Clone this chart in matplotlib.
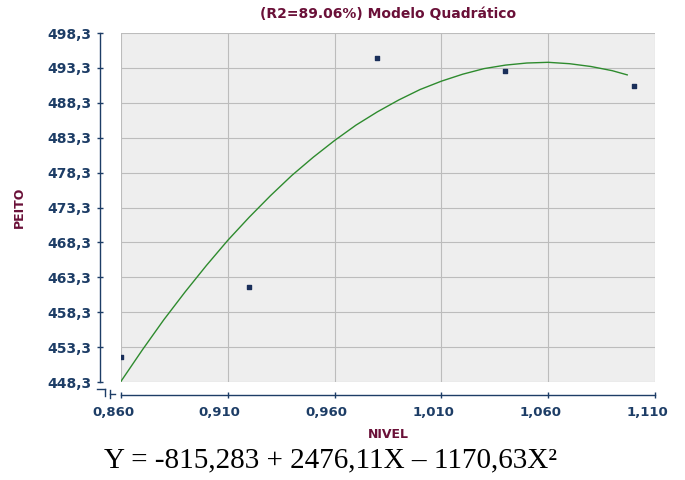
import matplotlib.pyplot as plt
from matplotlib.ticker import FixedLocator, FuncFormatter
from matplotlib.transforms import ScaledTranslation

# observed points
nivel = [0.860, 0.920, 0.980, 1.040, 1.100]
peito = [451.9, 461.9, 494.7, 492.9, 490.7]

# fitted quadratic curve
curve_x = [0.860, 0.870, 0.880, 0.890, 0.900, 0.910, 0.920, 0.930,
           0.940, 0.950, 0.960, 0.970, 0.980, 0.990, 1.000, 1.010,
           1.020, 1.030, 1.040, 1.050, 1.060, 1.070, 1.080, 1.090,
           1.097]
curve_y = [448.4, 452.9, 457.2, 461.2, 465.0, 468.6, 471.9, 475.0,
           477.9, 480.5, 482.9, 485.1, 487.0, 488.7, 490.2, 491.4,
           492.4, 493.2, 493.7, 494.0, 494.1, 493.9, 493.5, 492.9,
           492.3]

x_ticks = [0.860, 0.910, 0.960, 1.010, 1.060, 1.110]
y_ticks = [448.3, 453.3, 458.3, 463.3, 468.3, 473.3, 478.3, 483.3,
           488.3, 493.3, 498.3]

title = "(R2=89.06%) Modelo Quadrático"
equation = "Y = -815,283 + 2476,11X \u2013 1170,63X\u00b2"

NAVY = "#1d3d66"
MAROON = "#6a1038"


def comma(v, _pos, digits):
    return f"{v:.{digits}f}".replace(".", ",")


fig = plt.figure(figsize=(6.85, 4.8), dpi=100)
ax = fig.add_axes([121 / 685, 98 / 480, 534 / 685, 349 / 480])
ax.set_facecolor("#eeeeee")

ax.plot(curve_x, curve_y, color="#2e8b2e", linewidth=1.0, zorder=3)
ax.scatter(nivel, peito, marker="s", s=6, color="#1a2f5a", zorder=4)

ax.set_xlim(x_ticks[0], x_ticks[-1])
ax.set_ylim(y_ticks[0], y_ticks[-1])
ax.xaxis.set_major_locator(FixedLocator(x_ticks))
ax.yaxis.set_major_locator(FixedLocator(y_ticks))
ax.xaxis.set_major_formatter(FuncFormatter(lambda v, p: comma(v, p, 3)))
ax.yaxis.set_major_formatter(FuncFormatter(lambda v, p: comma(v, p, 1)))

ax.grid(True, color="#bcbcbc", linewidth=0.8)
ax.set_axisbelow(True)

for side in ["top", "right"]:
    ax.spines[side].set_visible(False)
ax.spines["left"].set_position(("outward", 15))
ax.spines["bottom"].set_position(("outward", 9))
for side in ["left", "bottom"]:
    ax.spines[side].set_color(NAVY)
    ax.spines[side].set_linewidth(1.0)

ax.tick_params(axis="both", colors=NAVY, labelcolor=NAVY, direction="inout",
               length=5, width=1.0, labelsize=10)
ax.tick_params(axis="x", pad=6, labelsize=9.5)
ax.tick_params(axis="y", pad=4)

# x labels sit a little left of their ticks in the original
shift = ScaledTranslation(-8 / 100, 0, fig.dpi_scale_trans)
for lbl in ax.get_xticklabels():
    lbl.set_fontweight("bold")
    lbl.set_transform(lbl.get_transform() + shift)
for lbl in ax.get_yticklabels():
    lbl.set_fontweight("bold")

# axis break marks at the lower-left corner
brk = dict(color=NAVY, linewidth=1.0, transform=fig.transFigure, clip_on=False)
fig.add_artist(plt.Line2D([97 / 685, 105 / 685], [1 - 389 / 480, 1 - 389 / 480], **brk))
fig.add_artist(plt.Line2D([105 / 685, 105 / 685], [1 - 389 / 480, 1 - 396 / 480], **brk))
fig.add_artist(plt.Line2D([110 / 685, 110 / 685], [1 - 390 / 480, 1 - 398 / 480], **brk))
fig.add_artist(plt.Line2D([110 / 685, 115 / 685], [1 - 394 / 480, 1 - 394 / 480], **brk))

ax.set_title(title, color=MAROON, fontsize=10, fontweight="bold", pad=11)
ax.set_xlabel("NIVEL", color=MAROON, fontsize=9, fontweight="bold", labelpad=6)
ax.set_ylabel("PEITO", color=MAROON, fontsize=9, fontweight="bold", labelpad=15)

fig.text(330 / 685, 1 - 460 / 480, equation, family="Liberation Serif",
         fontsize=21, ha="center", va="center", color="black")

fig.savefig("out.png", dpi=100)
